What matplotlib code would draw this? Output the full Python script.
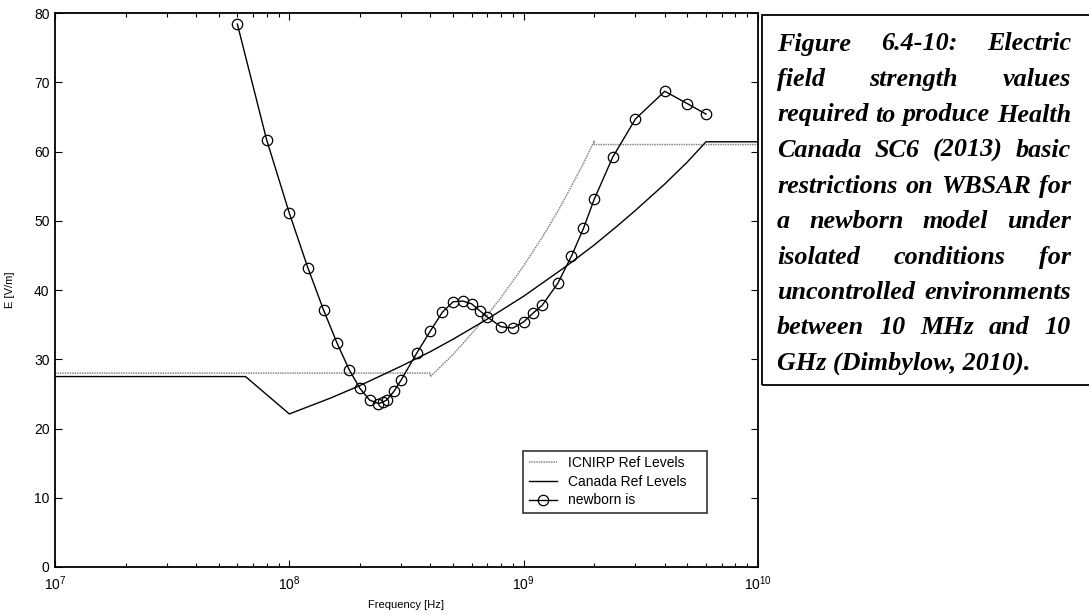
import numpy as np
import matplotlib
matplotlib.use('Agg')
import matplotlib.pyplot as plt
from matplotlib.ticker import LogLocator, NullFormatter, FixedLocator

plt.rcParams['font.family'] = ['Liberation Sans', 'DejaVu Sans']
plt.rcParams['mathtext.fontset'] = 'custom'
plt.rcParams['mathtext.rm'] = 'Liberation Sans'
plt.rcParams['mathtext.default'] = 'regular'

# frequencies in MHz, field strength in V/m
icnirp_f = [10, 400, 400, 500, 600, 700, 800, 1000, 1200, 1400, 1600, 1800, 2000, 2000, 10000]
icnirp_e = [28.0, 28.0, 27.5, 30.7, 33.7, 36.4, 38.9, 43.5, 47.6, 51.4, 55.0, 58.3, 61.5, 61.0, 61.0]

canada_f = [10, 65, 100, 150, 200, 300, 400, 500, 700, 1000, 1500, 2000, 2500, 3000, 4000, 5000, 6000, 10000]
canada_e = [27.5, 27.5, 22.1, 24.4, 26.2, 29.0, 31.1, 32.9, 35.8, 39.1, 43.3, 46.5, 49.2, 51.5, 55.3, 58.5, 61.4, 61.4]

newborn_f = [60, 80, 100, 120, 140, 160, 180, 200, 220, 240, 250, 260, 280, 300, 350, 400,
             450, 500, 550, 600, 650, 700, 800, 900, 1000, 1100, 1200, 1400, 1600, 1800,
             2000, 2400, 3000, 4000, 5000, 6000]
newborn_e = [78.4, 61.7, 51.1, 43.2, 37.1, 32.3, 28.5, 25.8, 24.1, 23.6, 23.8, 24.1, 25.4, 27.0, 30.9, 34.1,
             36.8, 38.3, 38.4, 38.0, 37.0, 36.1, 34.7, 34.5, 35.4, 36.7, 37.8, 41.0, 44.9, 48.9,
             53.1, 59.2, 64.7, 68.7, 66.9, 65.4]

caption_lines = [
    "Figure 6.4-10: Electric",
    "field strength values",
    "required to produce Health",
    "Canada SC6 (2013) basic",
    "restrictions on WBSAR for",
    "a newborn model under",
    "isolated conditions for",
    "uncontrolled environments",
    "between 10 MHz and 10",
    "GHz (Dimbylow, 2010).",
]

W, H = 1089, 615
fig = plt.figure(figsize=(W / 100, H / 100), dpi=100)
ax = fig.add_axes([55 / W, 1 - 567 / H, (758 - 55) / W, (567 - 13) / H])

mhz = 1e6
ax.plot(np.array(icnirp_f) * mhz, icnirp_e, color='#8a8a8a', lw=1.1, ls=(0, (1, 0.6)),
        label='ICNIRP Ref Levels')
ax.plot(np.array(canada_f) * mhz, canada_e, color='black', lw=1.0, label='Canada Ref Levels')
ax.plot(np.array(newborn_f) * mhz, newborn_e, color='black', lw=1.0, marker='o', ms=7.5,
        mfc='none', mec='black', mew=0.9, label='newborn is')

ax.set_xscale('log')
ax.set_xlim(1e7, 1e10)
ax.set_ylim(0, 80)
ax.yaxis.set_major_locator(FixedLocator(np.arange(0, 81, 10)))
ax.xaxis.set_major_locator(LogLocator(base=10, numticks=10))
ax.xaxis.set_minor_locator(LogLocator(base=10, subs=np.arange(2, 10), numticks=20))
ax.xaxis.set_minor_formatter(NullFormatter())

ax.tick_params(which='both', direction='in', top=True, right=True, colors='black',
               labelsize=10, width=0.8)
ax.tick_params(which='major', length=5)
ax.tick_params(which='minor', length=3)
ax.tick_params(axis='x', pad=5)
ax.tick_params(axis='y', pad=4)
for s in ax.spines.values():
    s.set_linewidth(1.3)
    s.set_color('black')

ax.set_xlabel('Frequency [Hz]', fontsize=8)
ax.set_ylabel('E [V/m]', fontsize=8)
ax.xaxis.set_label_coords(0.5, -0.06)
ax.yaxis.set_label_coords(-0.057, 0.5)

leg = ax.legend(loc='lower left', bbox_to_anchor=(0.666, 0.0975, 0.2617, 0.11), mode='expand',
                fontsize=10, frameon=True, fancybox=False, borderaxespad=0, handlelength=2.0,
                handletextpad=0.8, labelspacing=0.33, borderpad=0.4)
leg.get_frame().set_edgecolor('black')
leg.get_frame().set_linewidth(1.2)

# caption box on the right
box_l, box_t, box_b = 762, 15, 385
fig.patches.append(plt.Rectangle((box_l / W, 1 - box_b / H), (W + 5 - box_l) / W, (box_b - box_t) / H,
                                 transform=fig.transFigure, fill=False, edgecolor='black', lw=1.3))

renderer = fig.canvas.get_renderer()
cap_font = dict(family='Liberation Serif', weight='bold', style='italic', size=18.8)
x0, x1 = 777, 1071
y_first, spacing = 44, 35.5
for i, line in enumerate(caption_lines):
    y = 1 - (y_first + i * spacing) / H
    words = line.split()
    if i == len(caption_lines) - 1:
        fig.text(x0 / W, y, line, va='center', ha='left', **cap_font)
        continue
    texts = [fig.text(0, y, w, va='center', ha='left', **cap_font) for w in words]
    widths = [t.get_window_extent(renderer).width for t in texts]
    gap = (x1 - x0 - sum(widths)) / (len(words) - 1)
    x = x0
    for t, wd in zip(texts, widths):
        t.set_x(x / W)
        x += wd + gap

fig.savefig('out.png', dpi=100)
